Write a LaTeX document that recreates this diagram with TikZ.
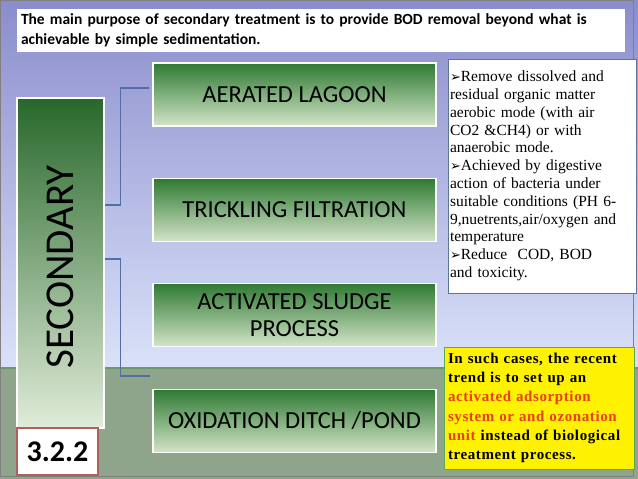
\documentclass[tikz,border=0pt]{standalone}
\usepackage{fontspec}
\setmainfont{Liberation Serif}
\setsansfont{Carlito}
\newfontfamily\symfont{DejaVu Sans}
\definecolor{skytop}{HTML}{8A8DCC}
\definecolor{skylow}{HTML}{DAE2F9}
\definecolor{ground}{HTML}{8EA58C}
\definecolor{horizon}{HTML}{6A9868}
\definecolor{boxtop}{HTML}{2F7A33}
\definecolor{boxbot}{HTML}{D3E4C8}
\definecolor{linkblue}{HTML}{4F6FA5}
\definecolor{notered}{HTML}{E8401C}
\definecolor{numframe}{HTML}{B0605A}
\newcommand{\arrowbullet}{{\symfont\fontsize{13}{13}\selectfont ➢}}
\tikzset{
  procbox/.style={draw=white, line width=1.5pt, top color=boxtop, bottom color=boxbot,
    minimum width=283pt, minimum height=63pt, inner sep=0pt, align=center,
    font=\sffamily\fontsize{24.5}{27}\selectfont},
  link/.style={draw=linkblue, line width=1.4pt},
}
\begin{document}
\begin{tikzpicture}[x=1pt,y=1pt]
\useasboundingbox (0,0) rectangle (638,479);
% slide background
\shade[top color=skytop, bottom color=skylow] (0,111) rectangle (638,479);
\fill[ground] (0,0) rectangle (638,111);
\draw[horizon, line width=1.2pt] (0,111) -- (638,111);
\draw[gray, line width=0.8pt] (0.5,2.5) rectangle (633.5,478.5);
% title
\node[draw=white, fill=white, minimum width=607pt, minimum height=42pt, inner sep=4pt,
  text width=599pt, align=left, font=\sffamily\bfseries\fontsize{15.5}{20}\selectfont]
  (title) at (320.5,449) {The main purpose of secondary treatment is to provide BOD removal beyond what is\\achievable by simple sedimentation.};
% left column
\node[draw=white, line width=1.5pt, top color=boxtop!85!black, bottom color=boxbot!70!white,
  minimum width=87pt, minimum height=330pt, inner sep=0pt]
  (sec) at (60.5,216) {};
\node[rotate=90, font=\sffamily\fontsize{41}{41}\selectfont] (seclabel) at ([yshift=-4pt]sec.center) {SECONDARY};
\node[draw=numframe, fill=white, line width=1.2pt, minimum width=81pt, minimum height=47pt,
  font=\sffamily\bfseries\fontsize{30}{30}\selectfont] (num) at (57.5,27.5) {3.2.2};
% process boxes
\node[procbox] (lagoon) at (294.5,384.5) {AERATED LAGOON};
\node[procbox] (trickling) at (294.5,269) {TRICKLING FILTRATION};
\node[procbox] (sludge) at (294.5,164) {ACTIVATED SLUDGE\\PROCESS};
\node[procbox] (ditch) at (294.5,58) {OXIDATION DITCH /POND};
% connectors
\coordinate (j2) at (150,103);
\draw[link] ([yshift=58pt]sec.east) -- ++(16,0) |- ([xshift=-3pt,yshift=6.5pt]lagoon.west);
\draw[link] ([yshift=4pt]sec.east) -- ++(16,0) |- (j2);
% notes
\node[draw=linkblue!70!gray, fill=white, line width=0.8pt, minimum width=188pt, minimum height=234pt,
  text width=184pt, inner sep=2pt, align=left, font=\fontsize{15.5}{17.8}\selectfont]
  (note) at (542,303) {\arrowbullet Remove dissolved and\\residual organic matter\\aerobic mode (with air\\CO2 \&CH4) or with\\anaerobic mode.\\\arrowbullet Achieved by digestive\\action of bacteria under\\suitable conditions (PH 6-\\9,nuetrents,air/oxygen and\\temperature\\\arrowbullet Reduce\ \ COD, BOD\\and toxicity.};
\node[draw=gray!70!green, fill=yellow, line width=0.8pt, minimum width=190pt, minimum height=122pt,
  text width=182pt, inner sep=4pt, align=left,
  font=\bfseries\addfontfeatures{LetterSpace=4}\fontsize{15}{19.3}\selectfont]
  (trend) at (539,71) {In such cases, the recent\\trend is to set up an\\\textcolor{notered}{activated adsorption}\\\textcolor{notered}{system or and ozonation}\\\textcolor{notered}{unit} instead of biological\\treatment process.};
\end{tikzpicture}
\end{document}
